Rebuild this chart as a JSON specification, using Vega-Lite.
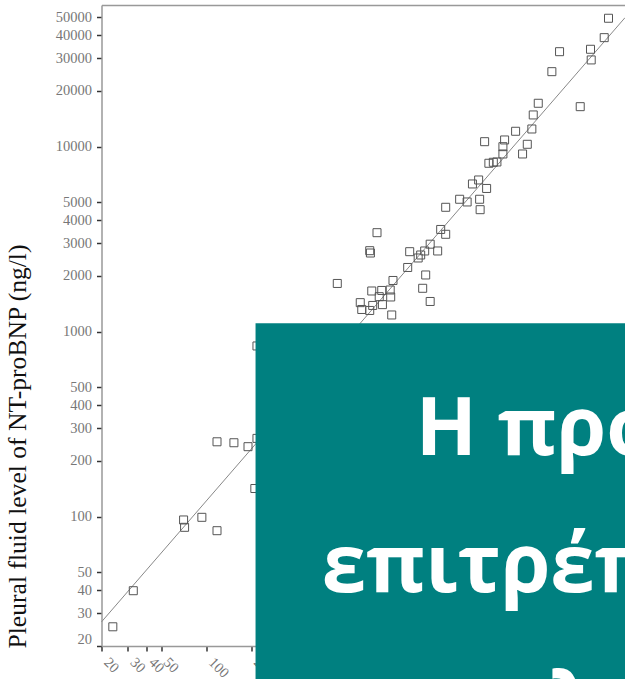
{
  "$schema": "https://vega.github.io/schema/vega-lite/v6.json",
  "autosize": {"type": "none"},
  "padding": {"left": 101.5, "top": 5, "right": 0, "bottom": 33},
  "width": 523.5,
  "height": 641,
  "background": "white",
  "config": {"view": {"stroke": null}},
  "datasets": {
    "points": [
      {"x": 48350, "y": 49430}, {"x": 45260, "y": 38830}, {"x": 36670, "y": 33600}, {"x": 37070, "y": 29430},
      {"x": 22790, "y": 32610}, {"x": 20250, "y": 25430}, {"x": 31310, "y": 16450}, {"x": 16430, "y": 17160},
      {"x": 15210, "y": 14840}, {"x": 14890, "y": 12460}, {"x": 11600, "y": 12110}, {"x": 9796, "y": 10870},
      {"x": 9544, "y": 10000}, {"x": 13880, "y": 10300}, {"x": 7206, "y": 10640}, {"x": 9544, "y": 9130},
      {"x": 12910, "y": 9130}, {"x": 7694, "y": 8132}, {"x": 8236, "y": 8234}, {"x": 8704, "y": 8264},
      {"x": 6572, "y": 6606}, {"x": 5976, "y": 6286}, {"x": 7430, "y": 5944}, {"x": 4910, "y": 5196},
      {"x": 5508, "y": 5024}, {"x": 6674, "y": 5196}, {"x": 6726, "y": 4564}, {"x": 3962, "y": 4702},
      {"x": 3668, "y": 3568}, {"x": 3962, "y": 3360}, {"x": 1379, "y": 3428}, {"x": 1233, "y": 2740},
      {"x": 1246, "y": 2662}, {"x": 749, "y": 1822}, {"x": 2279, "y": 2706}, {"x": 2596, "y": 2502},
      {"x": 2698, "y": 2597}, {"x": 2869, "y": 2730}, {"x": 3122, "y": 2971}, {"x": 3502, "y": 2730},
      {"x": 2210, "y": 2223}, {"x": 2914, "y": 2025}, {"x": 1763, "y": 1891}, {"x": 2782, "y": 1716},
      {"x": 1272, "y": 1659}, {"x": 1483, "y": 1670}, {"x": 1689, "y": 1680}, {"x": 1427, "y": 1546},
      {"x": 1702, "y": 1540}, {"x": 1066, "y": 1435}, {"x": 1091, "y": 1318}, {"x": 1233, "y": 1302},
      {"x": 1291, "y": 1386}, {"x": 1499, "y": 1400}, {"x": 3122, "y": 1456}, {"x": 1729, "y": 1231},
      {"x": 118, "y": 254}, {"x": 153, "y": 251}, {"x": 190, "y": 239}, {"x": 218, "y": 265},
      {"x": 218, "y": 837}, {"x": 211, "y": 142}, {"x": 70.6, "y": 96}, {"x": 71.7, "y": 87.6},
      {"x": 93.5, "y": 99.2}, {"x": 118, "y": 84}, {"x": 32.6, "y": 39.8}, {"x": 23.8, "y": 25.4}
    ],
    "fit": [{"x": 20, "y": 27}, {"x": 62300, "y": 49800}],
    "box": [{"x": 213.3, "x2": 1000000, "y": 1110, "y2": 5}],
    "caption": [
      {"x": 2498, "y": 215.5, "t": "Η προσθήκη"},
      {"x": 590, "y": 39.3, "t": "επιτρέπει"},
      {"x": 319.4, "y": 7.1, "t": "στην κλινική"}
    ]
  },
  "encoding": {
    "x": {
      "field": "x", "type": "quantitative",
      "scale": {"type": "log", "domain": [20, 62300], "nice": false, "zero": false},
      "axis": {
        "values": [20, 30, 40, 50, 100, 200],
        "format": "d", "title": null, "grid": false, "labelOverlap": false,
        "labelAngle": 45, "labelAlign": "left", "labelBaseline": "middle", "labelPadding": 9, "labelOffset": 4,
        "labelFont": "Liberation Serif", "labelFontSize": 14.5, "labelColor": "#777",
        "tickSize": 5, "tickColor": "#333", "tickWidth": 1.5,
        "domainColor": "#999", "domainWidth": 1.5
      }
    },
    "y": {
      "field": "y", "type": "quantitative",
      "scale": {"type": "log", "domain": [20, 58300], "nice": false, "zero": false},
      "axis": {
        "values": [20, 30, 40, 50, 100, 200, 300, 400, 500, 1000, 2000, 3000, 4000, 5000, 10000, 20000, 30000, 40000, 50000],
        "format": "d", "grid": false, "labelOverlap": false,
        "title": "Pleural fluid level of NT-proBNP (ng/l)",
        "titleFont": "Liberation Serif", "titleFontSize": 25.6, "titleFontWeight": "normal", "titleColor": "#111",
        "titleAngle": -90, "titleX": -76, "titleY": 643, "titleAlign": "left", "titleBaseline": "alphabetic",
        "labelFont": "Liberation Serif", "labelFontSize": 14.5, "labelColor": "#777",
        "labelPadding": 5, "labelFlush": true,
        "tickSize": 5, "tickColor": "#333", "tickWidth": 1.5,
        "domainColor": "#999", "domainWidth": 1.5
      }
    }
  },
  "layer": [
    {
      "data": {"name": "fit"},
      "mark": {"type": "line", "color": "#888", "strokeWidth": 1},
      "encoding": {
        "x": {
          "field": "x", "type": "quantitative",
          "scale": {"type": "log", "domain": [20, 62300], "nice": false, "zero": false},
          "axis": {"orient": "top", "labels": false, "ticks": false, "domain": true, "grid": false, "title": null,
                   "domainColor": "#999", "domainWidth": 1.5}
        }
      }
    },
    {
      "data": {"name": "points"},
      "mark": {"type": "point", "shape": "square", "filled": false, "stroke": "#555", "strokeWidth": 1, "size": 64, "opacity": 1}
    },
    {
      "data": {"name": "box"},
      "mark": {"type": "rect", "color": "#008080"},
      "encoding": {
        "x": {"field": "x", "type": "quantitative", "scale": {"type": "log", "domain": [20, 62300], "nice": false, "zero": false}, "axis": null},
        "x2": {"field": "x2"},
        "y2": {"field": "y2"}
      }
    },
    {
      "data": {"name": "caption"},
      "mark": {"type": "text", "font": "Open Sans", "fontWeight": "bold", "fontSize": 80, "color": "white", "align": "left", "baseline": "alphabetic"},
      "encoding": {
        "x": {"field": "x", "type": "quantitative", "scale": {"type": "log", "domain": [20, 62300], "nice": false, "zero": false}, "axis": null},
        "text": {"field": "t"}
      }
    }
  ],
  "resolve": {"axis": {"x": "independent"}}
}
